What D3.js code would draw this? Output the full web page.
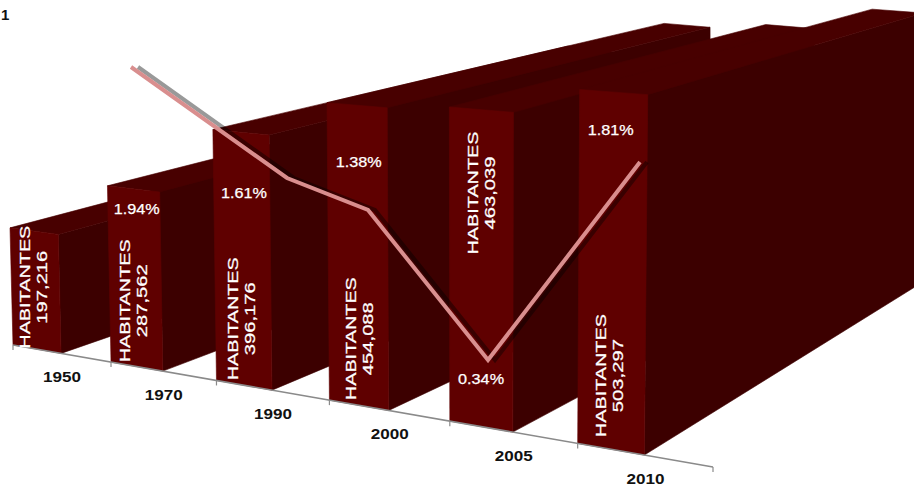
<!DOCTYPE html>
<html>
<head>
<meta charset="utf-8">
<script src="https://cdnjs.cloudflare.com/ajax/libs/d3/7.8.5/d3.min.js"></script>
<style>
  html, body { margin: 0; padding: 0; background: #fff; overflow: hidden; }
  svg { display: block; }
  text { font-family: "Liberation Sans", Arial, sans-serif; }
</style>
</head>
<body>
<div id="chart"></div>
<script>
(function(){
  'use strict';

  var categories = ['1950', '1970', '1990', '2000', '2005', '2010'];
  var habitantes = [197216, 287562, 396176, 454088, 463039, 503297];
  var growth = [1.94, 1.61, 1.38, 0.34, 1.81];

  // where the labels sit on each bar, as a share of its height
  var habLift = [0.525, 0.37, 0.263, 0.222, 0.737, 0.206];
  var habNudge = [-2, -2, -2, 1, 0, -2];
  var pctLift = [0.877, 0.753, 0.805, 0.144, 0.891];

  var W = 914, H = 485;
  var front = '#5f0000', side = '#3c0000', top = '#480000';
  var vanish = [1750, -232];

  var svg = d3.select('#chart').append('svg').attr('width', W).attr('height', H);

  // the category axis runs into the viewer, so slots widen towards the right
  var slotShift = 12.63;
  var slot = d3.scalePow().exponent(2).domain([slotShift, slotShift + 6]).range([13, 713]);
  var axisY = d3.scaleLinear().domain([13, 713]).range([345, 467]);
  var zoomAt = d3.scaleLinear().domain([13, 577]).range([0.594, 0.703]);
  var leanAt = d3.scaleLinear().domain([13, 577]).range([-0.0256, 0.0056]);
  var depthAt = d3.scaleLinear().domain([326, 579]).range([0.2367, 0.25]);

  var lineX = d3.scaleLinear().domain([0, 1, 2, 3, 4]).range([131, 287, 368, 488, 640]);
  var lineY = d3.scaleLinear().domain([0.34, 1.38, 1.61, 1.81, 1.94]).range([360, 210, 178, 162, 67]);

  function slotX(i) {
    return slot(i + slotShift);
  }

  function floorPoint(x) {
    return [x, axisY(x)];
  }

  function topPoint(x, value) {
    var h = zoomAt(x) * value / 1000;
    return [x + h * leanAt(x), axisY(x) - h];
  }

  function toBack(p, t) {
    return [p[0] + (vanish[0] - p[0]) * t, p[1] + (vanish[1] - p[1]) * t];
  }

  var poly = d3.line();
  function shape(points) {
    return poly(points) + 'Z';
  }

  var bars = svg.append('g').attr('class', 'bars');

  habitantes.forEach(function (value, i) {
    var xl = slotX(i), xr = slotX(i + 0.5);
    var t = depthAt(xl);
    var bl = floorPoint(xl), br = floorPoint(xr);
    var tl = topPoint(xl, value), tr = topPoint(xr, value);

    var g = bars.append('g').attr('stroke-width', 0.6);
    g.append('path').attr('d', shape([br, tr, toBack(tr, t), toBack(br, t)])).attr('fill', side).attr('stroke', side);
    g.append('path').attr('d', shape([tl, tr, toBack(tr, t), toBack(tl, t)])).attr('fill', top).attr('stroke', top);
    g.append('path').attr('d', shape([bl, br, tr, tl])).attr('fill', front).attr('stroke', front);
  });

  // axis
  var axis = svg.append('g').attr('class', 'axis');
  axis.append('path')
    .attr('d', poly([floorPoint(slotX(0)), floorPoint(slotX(6))]))
    .attr('stroke', '#8a8a8a').attr('stroke-width', 1.6).attr('fill', 'none');
  axis.selectAll('line').data(d3.range(7)).enter().append('line')
    .attr('x1', function (d) { return slotX(d); })
    .attr('x2', function (d) { return slotX(d); })
    .attr('y1', function (d) { return axisY(slotX(d)); })
    .attr('y2', function (d) { return axisY(slotX(d)) + 5; })
    .attr('stroke', '#8a8a8a').attr('stroke-width', 1.2);

  axis.selectAll('text').data(categories).enter().append('text')
    .attr('x', function (d, i) { return slotX(i + 0.5) + 1; })
    .attr('y', function (d, i) { return axisY(slotX(i + 0.5)) + 29; })
    .attr('text-anchor', 'middle')
    .attr('font-size', 14.5).attr('font-weight', 'bold').attr('fill', '#111')
    .attr('textLength', 38).attr('lengthAdjust', 'spacingAndGlyphs')
    .text(function (d) { return d; });

  // growth line with its shadow
  var growthLine = d3.line()
    .x(function (d, i) { return lineX(i); })
    .y(function (d) { return lineY(d); });

  svg.append('path').datum(growth)
    .attr('d', growthLine)
    .attr('transform', 'translate(7,0)')
    .attr('fill', 'none').attr('stroke', '#000').attr('stroke-opacity', 0.4).attr('stroke-width', 4);
  svg.append('path').datum(growth)
    .attr('d', growthLine)
    .attr('fill', 'none').attr('stroke', '#d98e8e').attr('stroke-width', 4);

  // labels
  function barCentre(i, share, value) {
    var xc = slotX(i + 0.25);
    var h = zoomAt(xc) * value / 1000;
    return [xc + h * share * leanAt(xc), axisY(xc) - h * share];
  }

  var fmt = d3.format(',');

  habitantes.forEach(function (value, i) {
    var c = barCentre(i, habLift[i], value);
    var g = svg.append('g')
      .attr('transform', 'translate(' + (c[0] + habNudge[i]) + ',' + c[1] + ') rotate(-90)')
      .attr('fill', '#fff').attr('stroke', '#fff').attr('stroke-width', 0.25);
    g.append('text')
      .attr('x', 0).attr('y', -3).attr('text-anchor', 'middle')
      .attr('font-size', 15)
      .attr('textLength', 123).attr('lengthAdjust', 'spacingAndGlyphs')
      .text('HABITANTES');
    g.append('text')
      .attr('x', 0).attr('y', 13.5).attr('text-anchor', 'middle')
      .attr('font-size', 15)
      .attr('textLength', 73).attr('lengthAdjust', 'spacingAndGlyphs')
      .text(fmt(value));
  });

  growth.forEach(function (value, i) {
    var c = barCentre(i + 1, pctLift[i], habitantes[i + 1]);
    svg.append('text')
      .attr('x', slotX(i + 1.25)).attr('y', c[1] + 3.5).attr('text-anchor', 'middle')
      .attr('font-size', 14.5).attr('fill', '#fff').attr('stroke', '#fff').attr('stroke-width', 0.25)
      .attr('textLength', 46).attr('lengthAdjust', 'spacingAndGlyphs')
      .text(value.toFixed(2) + '%');
  });

  svg.append('text').attr('x', 1).attr('y', 20)
    .attr('font-size', 15).attr('font-weight', 'bold').attr('fill', '#111')
    .text('1');
})();
</script>
</body>
</html>
